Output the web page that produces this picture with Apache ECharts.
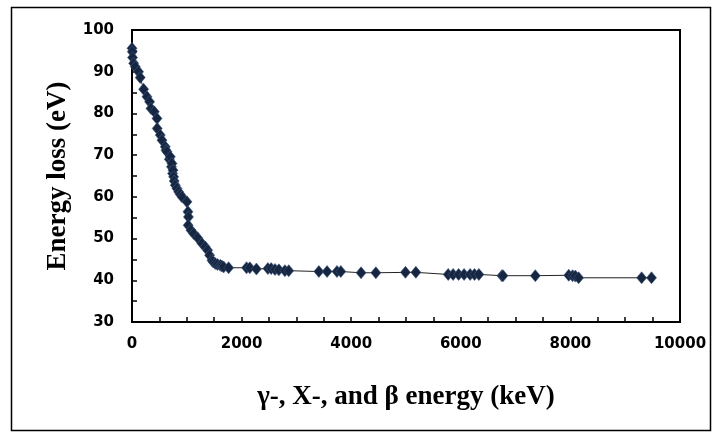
<!DOCTYPE html>
<html>
<head>
<meta charset="utf-8">
<script src="https://cdn.jsdelivr.net/npm/echarts@6/dist/echarts.min.js"></script>
<style>
  html, body { margin: 0; padding: 0; background: #fff; }
  #chart { width: 713px; height: 432px; }
</style>
</head>
<body>
<div id="chart"></div>
<script>
// energy (keV) and energy loss (eV)
var energy = [
  0, 5, 10, 30, 60, 120, 150, 212, 273, 321, 346, 407, 456, 460, 516, 547, 607, 620, 638, 680,
  699, 720, 730, 740, 748, 760, 770, 790, 820, 851, 880, 912, 1003, 1021, 1030, 1025, 1076, 1124, 1197, 1277,
  1337, 1380, 1416, 1459, 1480, 1520, 1560, 1611, 1640, 1672, 1763,
  2090, 2150, 2270, 2480, 2540, 2610, 2680, 2790, 2860,
  3410, 3560, 3740, 3810, 4180, 4450, 4990, 5180,
  5770, 5860, 5960, 6060, 6170, 6250, 6330, 6750, 6770, 7360,
  7970, 8040, 8090, 8150, 9300, 9480
]
var loss = [
  95.6, 94.8, 93.4, 92.0, 91.2, 90.0, 88.6, 85.8, 84.0, 82.8, 81.2, 80.4, 78.8, 76.4, 74.8, 73.6, 72.0, 71.2, 70.8, 69.0,
  69.6, 67.2, 68.0, 65.6, 66.4, 64.8, 63.8, 62.8, 62.0, 61.2, 60.6, 60.0, 58.8, 56.4, 55.2, 53.2, 52.0, 51.2, 50.2, 48.8,
  48.0, 47.2, 46.0, 44.8, 44.4, 44.0, 43.8, 43.6, 43.4, 43.2, 43.0,
  43.0, 43.0, 42.7, 42.8, 42.8, 42.6, 42.5, 42.3, 42.3,
  42.1, 42.1, 42.1, 42.1, 41.8, 41.8, 41.9, 41.9,
  41.4, 41.4, 41.4, 41.4, 41.4, 41.4, 41.4, 41.1, 41.1, 41.1,
  41.2, 41.1, 41.0, 40.6, 40.6, 40.6
]
var xTicks = [0, 2000, 4000, 6000, 8000, 10000]
var yTicks = [30, 40, 50, 60, 70, 80, 90, 100]

var points = energy.map(function (e, i) { return [e, loss[i]] })

var chart = echarts.init(document.getElementById('chart'))
chart.setOption({
  animation: false,
  graphic: [{
    type: 'rect',
    shape: { x: 11.5, y: 7.5, width: 699, height: 423 },
    style: { fill: 'none', stroke: '#000', lineWidth: 1.5 }
  }],
  grid: {
    left: 132,
    right: 33,
    top: 30,
    bottom: 110,
    show: true,
    borderColor: '#000',
    borderWidth: 2
  },
  xAxis: {
    type: 'value',
    min: xTicks[0],
    max: xTicks[xTicks.length - 1],
    interval: 2000,
    name: 'γ-, X-, and β energy (keV)',
    nameLocation: 'middle',
    nameGap: 62,
    nameTextStyle: { fontFamily: 'Liberation Serif', fontWeight: 'bold', fontSize: 27, color: '#000' },
    axisLine: { show: true, lineStyle: { color: '#000', width: 2 } },
    axisTick: { show: true, inside: true, length: 5, lineStyle: { color: '#000', width: 1.5 } },
    minorTick: { show: true, splitNumber: 4, length: 5, lineStyle: { color: '#000', width: 1.5 } },
    axisLabel: {
      margin: 15, fontFamily: 'DejaVu Sans', fontWeight: 'bold', fontSize: 15, color: '#000',
      formatter: function (v) { return String(v) }
    },
    splitLine: { show: false }
  },
  yAxis: {
    type: 'value',
    min: yTicks[0],
    max: yTicks[yTicks.length - 1],
    interval: 10,
    name: 'Energy loss (eV)',
    nameLocation: 'middle',
    nameGap: 58,
    nameRotate: 90,
    nameTextStyle: { fontFamily: 'Liberation Serif', fontWeight: 'bold', fontSize: 27, color: '#000' },
    axisLine: { show: true, lineStyle: { color: '#000', width: 2 } },
    axisTick: { show: true, inside: true, length: 5, lineStyle: { color: '#000', width: 1.5 } },
    minorTick: { show: true, splitNumber: 2, length: 5, lineStyle: { color: '#000', width: 1.5 } },
    axisLabel: { margin: 18, fontFamily: 'DejaVu Sans', fontWeight: 'bold', fontSize: 15, color: '#000' },
    splitLine: { show: false }
  },
  series: [{
    type: 'line',
    data: points,
    symbol: 'diamond',
    symbolSize: [10, 12],
    itemStyle: { color: '#172640', borderColor: '#3c5880', borderWidth: 0.6 },
    lineStyle: { color: '#222', width: 1 }
  }]
})
</script>
</body>
</html>
